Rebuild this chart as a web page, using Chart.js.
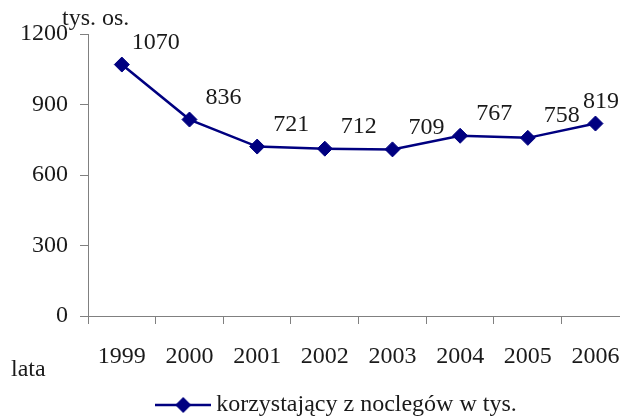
<!DOCTYPE html>
<html>
<head>
<meta charset="utf-8">
<script src="https://cdn.jsdelivr.net/npm/chart.js@4/dist/chart.umd.min.js"></script>
<style>
  html, body { margin: 0; padding: 0; background: #fff; overflow: hidden; }
  #wrap { position: absolute; left: 0; top: 0; width: 638px; height: 427px; }
</style>
</head>
<body>
<div id="wrap"><canvas id="chart" width="638" height="427"></canvas></div>
<script>
// data
const years = ['1999', '2000', '2001', '2002', '2003', '2004', '2005', '2006'];
const guests = [1070, 836, 721, 712, 709, 767, 758, 819];
const yTicks = [0, 300, 600, 900, 1200];
const seriesName = 'korzystający z noclegów w tys.';

const navy = '#000080';
const axisGrey = '#808080';
const textCol = '#1a1a1a';
const serif = '"Liberation Serif", "DejaVu Serif", serif';

// legend symbol: line with a diamond in the middle
function legendSymbol() {
    const c = document.createElement('canvas');
    c.width = 56; c.height = 18;
    const g = c.getContext('2d');
    g.strokeStyle = navy;
    g.lineWidth = 2.5;
    g.beginPath(); g.moveTo(0, 9); g.lineTo(56, 9); g.stroke();
    g.fillStyle = navy;
    g.beginPath();
    g.moveTo(28, 1); g.lineTo(36, 9); g.lineTo(28, 17); g.lineTo(20, 9);
    g.closePath(); g.fill();
    return c;
}

// value labels + axis captions
const extraText = {
    id: 'extraText',
    afterLayout(chart) {
        // legend sits a bit right of the canvas centre
        chart.legend.left += 22;
        chart.legend.right += 22;
    },
    afterDatasetsDraw(chart) {
        const ctx = chart.ctx;
        const meta = chart.getDatasetMeta(0);
        ctx.save();
        ctx.font = '24px ' + serif;
        ctx.fillStyle = textCol;
        ctx.textAlign = 'center';
        ctx.textBaseline = 'middle';
        meta.data.forEach((pt, i) => {
            const txt = String(guests[i]);
            const w = ctx.measureText(txt).width;
            let x = pt.x + 34;
            if (x + w / 2 > 619) x = 619 - w / 2;
            ctx.fillText(txt, x, pt.y - 22);
        });
        ctx.textAlign = 'left';
        ctx.fillText('tys. os.', 62, 19);
        ctx.fillText('lata', 11, 370);
        ctx.restore();
    }
};

const ctx = document.getElementById('chart').getContext('2d');
new Chart(ctx, {
    type: 'line',
    data: {
        labels: years,
        datasets: [{
            label: seriesName,
            data: guests,
            borderColor: navy,
            backgroundColor: navy,
            borderWidth: 2.5,
            pointStyle: 'rectRot',
            pointRadius: 7.5,
            pointBorderWidth: 1,
            pointBackgroundColor: navy,
            pointBorderColor: navy,
            tension: 0
        }]
    },
    options: {
        responsive: false,
        animation: false,
        layout: { padding: { left: 0, right: 3, top: 34, bottom: 0 } },
        plugins: {
            tooltip: { enabled: false },
            legend: {
                position: 'bottom',
                labels: {
                    usePointStyle: true,
                    pointStyleWidth: 42,
                    color: textCol,
                    font: { family: serif, size: 24 },
                    padding: 6,
                    generateLabels: (chart) => [{
                        text: seriesName,
                        pointStyle: legendSymbol(),
                        fillStyle: navy,
                        strokeStyle: navy,
                        lineWidth: 0,
                        fontColor: textCol,
                        datasetIndex: 0
                    }]
                }
            }
        },
        scales: {
            x: {
                offset: true,
                afterFit: (s) => { s.height = 71; },
                grid: {
                    offset: true,
                    drawOnChartArea: false,
                    drawTicks: true,
                    tickLength: 8,
                    color: axisGrey
                },
                border: { color: axisGrey, width: 1 },
                ticks: {
                    color: textCol,
                    font: { family: serif, size: 24 },
                    padding: 18,
                    maxRotation: 0,
                    autoSkip: false
                }
            },
            y: {
                min: 0,
                max: 1200,
                afterBuildTicks: (s) => { s.ticks = yTicks.map(v => ({ value: v })); },
                afterFit: (s) => { s.width = 88; },
                grid: {
                    drawOnChartArea: false,
                    drawTicks: true,
                    tickLength: 8,
                    color: axisGrey
                },
                border: { color: axisGrey, width: 1 },
                ticks: {
                    color: textCol,
                    font: { family: serif, size: 24 },
                    padding: 12,
                    callback: (v) => String(v)
                }
            }
        }
    },
    plugins: [extraText]
});
</script>
</body>
</html>
